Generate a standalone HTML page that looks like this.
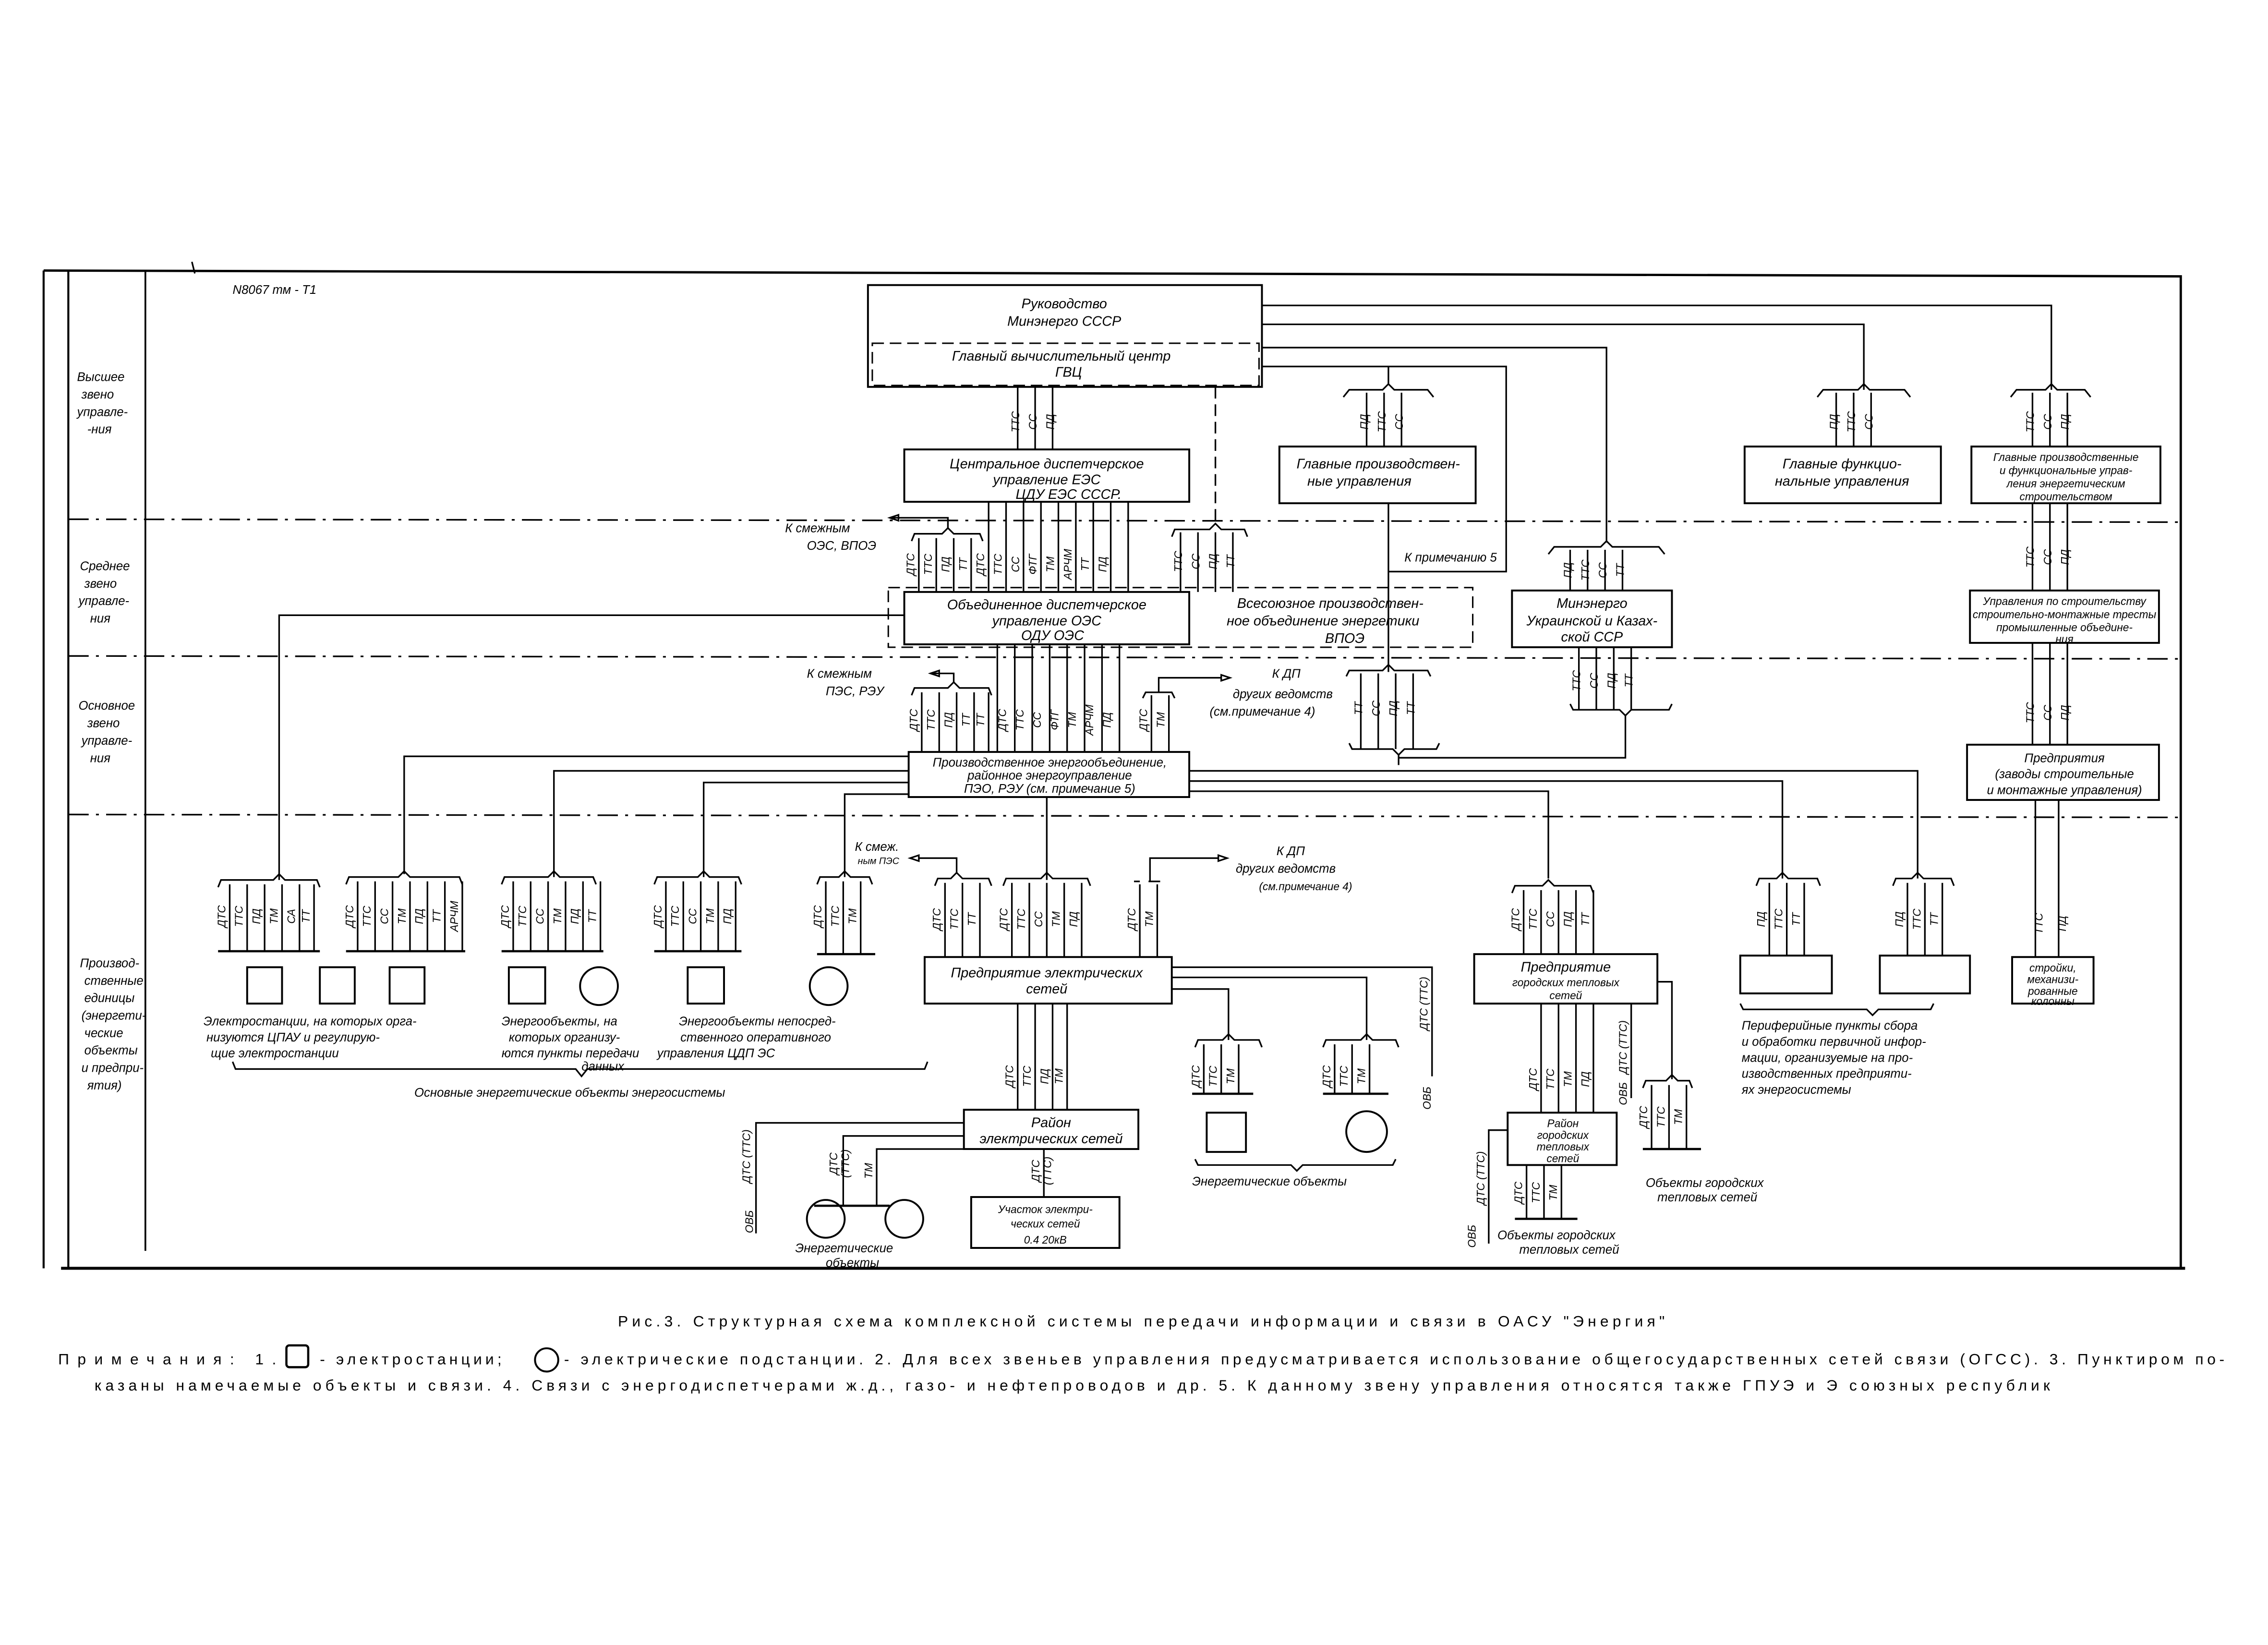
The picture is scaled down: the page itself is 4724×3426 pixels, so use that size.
<!DOCTYPE html>
<html><head><meta charset="utf-8"><style>
html,body{margin:0;padding:0;background:#fff}
svg{display:block}
text{font-family:"Liberation Sans","DejaVu Sans",sans-serif;font-style:italic;fill:#000}
.t{font-size:9.5px}
.s{font-size:7.5px}
.r{font-size:7.5px;text-anchor:middle}
.c{text-anchor:middle}
.n{font-size:10.5px;font-style:normal}
line,path,rect,circle{stroke:#000;fill:none}
</style></head><body>
<svg width="4724" height="3426" viewBox="0 0 1560 1131" preserveAspectRatio="none" xmlns="http://www.w3.org/2000/svg">
<g stroke-width="1.1">
<path d="M30 186 L1500 190 L1500 872" stroke-width="1.6"/>
<line x1="42" y1="872" x2="1503" y2="872" stroke-width="2"/>
<line x1="30" y1="186" x2="30" y2="872" stroke-width="1.4"/>
<line x1="47" y1="186" x2="47" y2="872" stroke-width="1.4"/>
<line x1="100" y1="186" x2="100" y2="860" stroke-width="1.2"/>
<line x1="132" y1="180" x2="134" y2="188"/>
<g stroke-dasharray="14 5 2 5">
<line x1="47" y1="357" x2="1500" y2="359"/>
<line x1="47" y1="451" x2="1500" y2="453"/>
<line x1="47" y1="560" x2="1500" y2="562"/>
</g>
</g>
<text class="s" x="160" y="202" style="font-size:8.5px">N8067 тм - T1</text>
<g class="s" style="font-size:8.5px">
<text x="53" y="262">Высшее</text><text x="56" y="274">звено</text><text x="53" y="286">управле-</text><text x="60" y="298">-ния</text>
<text x="55" y="392">Среднее</text><text x="58" y="404">звено</text><text x="54" y="416">управле-</text><text x="62" y="428">ния</text>
<text x="54" y="488">Основное</text><text x="60" y="500">звено</text><text x="56" y="512">управле-</text><text x="62" y="524">ния</text>
<text x="55" y="665">Производ-</text><text x="58" y="677">ственные</text><text x="58" y="689">единицы</text><text x="56" y="701">(энергети-</text><text x="58" y="713">ческие</text><text x="58" y="725">объекты</text><text x="56" y="737">и предпри-</text><text x="60" y="749">ятия)</text>
</g>

<g stroke-width="1.3">
<rect x="597" y="196" width="271" height="70"/>
<rect x="600" y="236" width="266" height="29" stroke-dasharray="8 4" stroke-width="1"/>
<rect x="622" y="309" width="196" height="36"/>
<rect x="880" y="307" width="135" height="39"/>
<rect x="1200" y="307" width="135" height="39"/>
<rect x="1356" y="307" width="130" height="39"/>
<rect x="611" y="404" width="402" height="41" stroke-dasharray="8 4" stroke-width="1"/>
<rect x="622" y="407" width="196" height="36"/>
<rect x="1040" y="406" width="110" height="39"/>
<rect x="1355" y="406" width="130" height="36"/>
<rect x="625" y="517" width="193" height="31"/>
<rect x="1353" y="512" width="132" height="38"/>
<rect x="636" y="658" width="170" height="32"/>
<rect x="1014" y="656" width="126" height="34"/>
<rect x="1197" y="657" width="63" height="26"/>
<rect x="1293" y="657" width="62" height="26"/>
<rect x="1384" y="658" width="56" height="32"/>
<rect x="663" y="763" width="120" height="27"/>
<rect x="1037" y="765" width="75" height="36"/>
<rect x="668" y="823" width="102" height="35"/>
<rect x="170" y="665" width="24" height="25"/><rect x="220" y="665" width="24" height="25"/><rect x="268" y="665" width="24" height="25"/>
<rect x="350" y="665" width="25" height="25"/><circle cx="412" cy="678" r="13"/>
<rect x="473" y="665" width="25" height="25"/><circle cx="570" cy="678" r="13"/>
<rect x="830" y="765" width="27" height="27"/><circle cx="940" cy="778" r="14"/>
<circle cx="568" cy="838" r="13"/><circle cx="622" cy="838" r="13"/>
</g>

<g class="t">
<text class="c" x="732" y="212">Руководство</text>
<text class="c" x="732" y="224">Минэнерго СССР</text>
<text class="c" x="730" y="248">Главный вычислительный центр</text>
<text class="c" x="735" y="259">ГВЦ</text>
<text class="c" x="720" y="322">Центральное диспетчерское</text>
<text class="c" x="720" y="333">управление ЕЭС</text>
<text class="c" x="735" y="343">ЦДУ ЕЭС СССР.</text>
<text class="c" x="948" y="322">Главные производствен-</text>
<text class="c" x="935" y="334">ные управления</text>
<text class="c" x="1267" y="322">Главные функцио-</text>
<text class="c" x="1267" y="334">нальные управления</text>
<text class="c s" x="1421" y="317">Главные производственные</text>
<text class="c s" x="1421" y="326">и функциональные управ-</text>
<text class="c s" x="1421" y="335">ления энергетическим</text>
<text class="c s" x="1421" y="344">строительством</text>
<text class="c" x="720" y="419">Объединенное диспетчерское</text>
<text class="c" x="720" y="430">управление ОЭС</text>
<text class="c" x="724" y="440">ОДУ ОЭС</text>
<text class="c" x="915" y="418">Всесоюзное производствен-</text>
<text class="c" x="910" y="430">ное объединение энергетики</text>
<text class="c" x="925" y="442">ВПОЭ</text>
<text class="c" x="1095" y="418">Минэнерго</text>
<text class="c" x="1095" y="430">Украинской и Казах-</text>
<text class="c" x="1095" y="441">ской ССР</text>
<text class="c s" x="1420" y="416">Управления по строительству</text>
<text class="c s" x="1420" y="425">строительно-монтажные тресты</text>
<text class="c s" x="1420" y="434">промышленные объедине-</text>
<text class="c s" x="1420" y="442">ния</text>
<text class="c s" x="722" y="527" style="font-size:8.5px">Производственное энергообъединение,</text>
<text class="c s" x="722" y="536" style="font-size:8.5px">районное энергоуправление</text>
<text class="c s" x="722" y="545" style="font-size:8.5px">ПЭО, РЭУ (см. примечание 5)</text>
<text class="c s" x="1420" y="524" style="font-size:8.5px">Предприятия</text>
<text class="c s" x="1420" y="535" style="font-size:8.5px">(заводы строительные</text>
<text class="c s" x="1420" y="546" style="font-size:8.5px">и монтажные управления)</text>
<text class="c" x="720" y="672">Предприятие электрических</text>
<text class="c" x="720" y="683">сетей</text>
<text class="c" x="1077" y="668">Предприятие</text>
<text class="c s" x="1077" y="678">городских тепловых</text>
<text class="c s" x="1077" y="687">сетей</text>
<text class="c s" x="1412" y="668">стройки,</text><text class="c s" x="1412" y="676">механизи-</text><text class="c s" x="1412" y="684">рованные</text><text class="c s" x="1412" y="691">колонны</text>
<text class="c" x="723" y="775">Район</text>
<text class="c" x="723" y="786">электрических сетей</text>
<text class="c s" x="1075" y="775">Район</text><text class="c s" x="1075" y="783">городских</text><text class="c s" x="1075" y="791">тепловых</text><text class="c s" x="1075" y="799">сетей</text>
<text class="c s" x="719" y="834">Участок электри-</text><text class="c s" x="719" y="844">ческих сетей</text><text class="c s" x="719" y="855">0.4 20кВ</text>
</g>

<g stroke-width="1.1">
<line x1="700" y1="266" x2="700" y2="309"/><line x1="712" y1="266" x2="712" y2="309"/><line x1="724" y1="266" x2="724" y2="309"/>
<path d="M868 210 H1411 V268"/><path d="M868 223 H1282 V268"/><path d="M868 239 H1105 V373"/>
<path d="M868 252 H1036 V393 H955"/>
<line x1="955" y1="346" x2="955" y2="462"/>
<line x1="836" y1="266" x2="836" y2="362" stroke-dasharray="8 4"/>
<path d="M924 273 L928 268 H951 L955 264 L959 268 H982 L986 273"/>
<line x1="940" y1="270" x2="940" y2="307"/><line x1="952" y1="270" x2="952" y2="307"/><line x1="964" y1="270" x2="964" y2="307"/>
<path d="M955 252 V264"/>
<path d="M1250 273 L1254 268 H1278 L1282 264 L1286 268 H1310 L1314 273"/>
<line x1="1263" y1="270" x2="1263" y2="307"/><line x1="1275" y1="270" x2="1275" y2="307"/><line x1="1287" y1="270" x2="1287" y2="307"/>
<path d="M1383 273 L1387 268 H1407 L1411 264 L1415 268 H1434 L1438 273"/>
<line x1="1398" y1="270" x2="1398" y2="307"/><line x1="1410" y1="270" x2="1410" y2="307"/><line x1="1422" y1="270" x2="1422" y2="307"/>
<line x1="1398" y1="346" x2="1398" y2="406"/><line x1="1410" y1="346" x2="1410" y2="406"/><line x1="1422" y1="346" x2="1422" y2="406"/>
<line x1="1398" y1="442" x2="1398" y2="512"/><line x1="1410" y1="442" x2="1410" y2="512"/><line x1="1422" y1="442" x2="1422" y2="512"/>
<line x1="1400" y1="550" x2="1400" y2="658"/><line x1="1416" y1="550" x2="1416" y2="658"/>
<path d="M1065 381 L1069 376 H1101 L1105 372 L1109 376 H1141 L1145 381"/>
<line x1="1080" y1="378" x2="1080" y2="406"/><line x1="1092" y1="378" x2="1092" y2="406"/><line x1="1104" y1="378" x2="1104" y2="406"/><line x1="1116" y1="378" x2="1116" y2="406"/>
<line x1="1086" y1="445" x2="1086" y2="488"/><line x1="1098" y1="445" x2="1098" y2="488"/><line x1="1110" y1="445" x2="1110" y2="488"/><line x1="1122" y1="445" x2="1122" y2="488"/>
<path d="M1080 484 L1082 488 H1114 L1118 492 L1122 488 H1148 L1150 484"/>
<path d="M1118 492 V521 H962"/>
<path d="M806 369 L808 364 H832 L836 360 L840 364 H856 L858 369"/>
<line x1="812" y1="366" x2="812" y2="407"/><line x1="824" y1="366" x2="824" y2="407"/><line x1="836" y1="366" x2="836" y2="407"/><line x1="848" y1="366" x2="848" y2="407"/>
<path d="M926 465 L928 461 H951 L955 457 L959 461 H982 L984 465"/>
<line x1="936" y1="463" x2="936" y2="515"/><line x1="948" y1="463" x2="948" y2="515"/><line x1="960" y1="463" x2="960" y2="515"/><line x1="972" y1="463" x2="972" y2="515"/>
<path d="M928 511 L930 515 H958 L962 519 L966 515 H988 L990 511"/>
<path d="M962 519 V526"/>
<path d="M627 372 L629 367 H648 L652 363 L656 367 H674 L676 372"/>
<path d="M652 363 V356 H612"/><path d="M612 356 l6 -2 v4 z" fill="#000"/>
<line x1="632" y1="370" x2="632" y2="407"/><line x1="644" y1="370" x2="644" y2="407"/><line x1="656" y1="370" x2="656" y2="407"/><line x1="668" y1="370" x2="668" y2="407"/>
<line x1="680" y1="345" x2="680" y2="407"/><line x1="692" y1="345" x2="692" y2="407"/><line x1="704" y1="345" x2="704" y2="407"/><line x1="716" y1="345" x2="716" y2="407"/><line x1="728" y1="345" x2="728" y2="407"/><line x1="740" y1="345" x2="740" y2="407"/><line x1="752" y1="345" x2="752" y2="407"/><line x1="764" y1="345" x2="764" y2="407"/><line x1="776" y1="345" x2="776" y2="407"/>
<path d="M627 478 L629 473 H652 L656 469 L660 473 H680 L682 478"/>
<path d="M656 469 V463 H640"/><path d="M640 463 l6 -2 v4 z" fill="#000"/>
<line x1="634" y1="476" x2="634" y2="517"/><line x1="646" y1="476" x2="646" y2="517"/><line x1="658" y1="476" x2="658" y2="517"/><line x1="670" y1="476" x2="670" y2="517"/><line x1="680" y1="476" x2="680" y2="517"/>
<line x1="686" y1="443" x2="686" y2="517"/><line x1="698" y1="443" x2="698" y2="517"/><line x1="710" y1="443" x2="710" y2="517"/><line x1="722" y1="443" x2="722" y2="517"/><line x1="734" y1="443" x2="734" y2="517"/><line x1="746" y1="443" x2="746" y2="517"/><line x1="758" y1="443" x2="758" y2="517"/><line x1="770" y1="443" x2="770" y2="517"/>
<path d="M786 480 L788 476 H806 L808 480"/><path d="M797 476 V466 H840"/><path d="M846 466 l-6 -2 v4 z" fill="#000"/>
<line x1="792" y1="478" x2="792" y2="517"/><line x1="804" y1="478" x2="804" y2="517"/>
<path d="M622 423 H192 V605"/>
<path d="M625 520 H278 V601"/>
<path d="M625 530 H381 V603"/>
<path d="M625 538 H484 V603"/>
<path d="M625 546 H581 V603"/>
<path d="M818 530 H1319 V604"/>
<path d="M818 537 H1226 V604"/>
<path d="M818 544 H1065 V604"/>
<line x1="720" y1="548" x2="720" y2="605"/>
<path d="M150 610 L152 605 H188 L192 601 L196 605 H218 L220 610"/>
<path d="M238 608 L240 603 H274 L278 599 L282 603 H316 L318 608"/>
<path d="M345 608 L347 603 H377 L381 599 L385 603 H408 L410 608"/>
<path d="M450 608 L452 603 H480 L484 599 L488 603 H508 L510 608"/>
<path d="M562 608 L564 603 H577 L581 599 L585 603 H598 L600 608"/>
<g>
<line x1="158" y1="608" x2="158" y2="654"/><line x1="170" y1="608" x2="170" y2="654"/><line x1="182" y1="608" x2="182" y2="654"/><line x1="194" y1="608" x2="194" y2="654"/><line x1="206" y1="608" x2="206" y2="654"/><line x1="216" y1="608" x2="216" y2="654"/>
<line x1="150" y1="654" x2="220" y2="654" stroke-width="1.5"/>
<line x1="246" y1="606" x2="246" y2="654"/><line x1="258" y1="606" x2="258" y2="654"/><line x1="270" y1="606" x2="270" y2="654"/><line x1="282" y1="606" x2="282" y2="654"/><line x1="294" y1="606" x2="294" y2="654"/><line x1="306" y1="606" x2="306" y2="654"/><line x1="318" y1="606" x2="318" y2="654"/>
<line x1="238" y1="654" x2="320" y2="654" stroke-width="1.5"/>
<line x1="353" y1="606" x2="353" y2="654"/><line x1="365" y1="606" x2="365" y2="654"/><line x1="377" y1="606" x2="377" y2="654"/><line x1="389" y1="606" x2="389" y2="654"/><line x1="401" y1="606" x2="401" y2="654"/><line x1="413" y1="606" x2="413" y2="654"/>
<line x1="345" y1="654" x2="415" y2="654" stroke-width="1.5"/>
<line x1="458" y1="606" x2="458" y2="654"/><line x1="470" y1="606" x2="470" y2="654"/><line x1="482" y1="606" x2="482" y2="654"/><line x1="494" y1="606" x2="494" y2="654"/><line x1="506" y1="606" x2="506" y2="654"/>
<line x1="450" y1="654" x2="510" y2="654" stroke-width="1.5"/>
<line x1="568" y1="606" x2="568" y2="656"/><line x1="580" y1="606" x2="580" y2="656"/><line x1="592" y1="606" x2="592" y2="656"/>
<line x1="562" y1="656" x2="602" y2="656" stroke-width="1.5"/>
</g>
<path d="M643 609 L645 604 H654 L658 600 L662 604 H680 L682 609"/>
<path d="M658 600 V590 H632"/><path d="M626 590 l6 -2 v4 z" fill="#000"/>
<line x1="650" y1="607" x2="650" y2="658"/><line x1="662" y1="607" x2="662" y2="658"/><line x1="674" y1="607" x2="674" y2="658"/>
<path d="M690 609 L692 604 H716 L720 600 L724 604 H748 L750 609"/>
<line x1="696" y1="607" x2="696" y2="658"/><line x1="708" y1="607" x2="708" y2="658"/><line x1="720" y1="607" x2="720" y2="658"/><line x1="732" y1="607" x2="732" y2="658"/><line x1="744" y1="607" x2="744" y2="658"/>
<path d="M780 606 H784 M790 606 H798"/><path d="M791 606 V590 H838"/><path d="M844 590 l-6 -2 v4 z" fill="#000"/>
<line x1="784" y1="608" x2="784" y2="658"/><line x1="796" y1="608" x2="796" y2="658"/>
<line x1="700" y1="690" x2="700" y2="763"/><line x1="712" y1="690" x2="712" y2="763"/><line x1="724" y1="690" x2="724" y2="763"/><line x1="734" y1="690" x2="734" y2="763"/>
<path d="M806 672 H940 V715"/><path d="M806 680 H845 V715"/>
<path d="M822 720 L824 715 H841 L845 711 L849 715 H866 L868 720"/>
<path d="M910 720 L912 715 H936 L940 711 L944 715 H960 L962 720"/>
<line x1="828" y1="718" x2="828" y2="752"/><line x1="840" y1="718" x2="840" y2="752"/><line x1="852" y1="718" x2="852" y2="752"/>
<line x1="820" y1="752" x2="862" y2="752" stroke-width="1.5"/>
<line x1="918" y1="718" x2="918" y2="752"/><line x1="930" y1="718" x2="930" y2="752"/><line x1="942" y1="718" x2="942" y2="752"/>
<line x1="910" y1="752" x2="955" y2="752" stroke-width="1.5"/>
<path d="M806 665 H985 V740"/>
<path d="M663 772 H520 V848"/>
<path d="M663 781 H580 V829"/>
<path d="M663 790 H603 V829"/>
<line x1="560" y1="829" x2="612" y2="829" stroke-width="1.5"/>
<line x1="718" y1="790" x2="718" y2="823"/>
<path d="M822 797 L824 801 H888 L892 805 L896 801 H958 L960 797"/>
<path d="M1040 614 L1042 609 H1061 L1065 605 L1069 609 H1094 L1096 614"/>
<line x1="1048" y1="612" x2="1048" y2="656"/><line x1="1060" y1="612" x2="1060" y2="656"/><line x1="1072" y1="612" x2="1072" y2="656"/><line x1="1084" y1="612" x2="1084" y2="656"/><line x1="1096" y1="612" x2="1096" y2="656"/>
<line x1="1060" y1="690" x2="1060" y2="765"/><line x1="1072" y1="690" x2="1072" y2="765"/><line x1="1084" y1="690" x2="1084" y2="765"/><line x1="1096" y1="690" x2="1096" y2="765"/>
<line x1="1122" y1="690" x2="1122" y2="755"/>
<path d="M1140 675 H1150 V742"/>
<path d="M1130 748 L1132 743 H1146 L1150 739 L1154 743 H1162 L1164 748"/>
<line x1="1136" y1="746" x2="1136" y2="790"/><line x1="1148" y1="746" x2="1148" y2="790"/><line x1="1160" y1="746" x2="1160" y2="790"/>
<line x1="1130" y1="790" x2="1170" y2="790" stroke-width="1.5"/>
<path d="M1037 777 H1024 V855"/>
<line x1="1050" y1="801" x2="1050" y2="838"/><line x1="1062" y1="801" x2="1062" y2="838"/><line x1="1074" y1="801" x2="1074" y2="838"/>
<line x1="1042" y1="838" x2="1085" y2="838" stroke-width="1.5"/>
<path d="M1208 609 L1210 604 H1222 L1226 600 L1230 604 H1250 L1252 609"/>
<line x1="1217" y1="607" x2="1217" y2="657"/><line x1="1229" y1="607" x2="1229" y2="657"/><line x1="1241" y1="607" x2="1241" y2="657"/>
<path d="M1302 609 L1304 604 H1315 L1319 600 L1323 604 H1342 L1344 609"/>
<line x1="1312" y1="607" x2="1312" y2="657"/><line x1="1324" y1="607" x2="1324" y2="657"/><line x1="1336" y1="607" x2="1336" y2="657"/>
<path d="M1197 690 L1199 694 H1284 L1288 698 L1292 694 H1328 L1330 690"/>
<path d="M160 730 L162 735 H396 L400 740 L404 735 H636 L638 730"/>
</g>

<g class="r">
<text transform="translate(701,290) rotate(-90)">ТТС</text><text transform="translate(713,290) rotate(-90)">СС</text><text transform="translate(725,290) rotate(-90)">ПД</text>
<text transform="translate(941,290) rotate(-90)">ПД</text><text transform="translate(953,290) rotate(-90)">ТТС</text><text transform="translate(965,290) rotate(-90)">СС</text>
<text transform="translate(1264,290) rotate(-90)">ПД</text><text transform="translate(1276,290) rotate(-90)">ТТС</text><text transform="translate(1288,290) rotate(-90)">СС</text>
<text transform="translate(1399,290) rotate(-90)">ТТС</text><text transform="translate(1411,290) rotate(-90)">СС</text><text transform="translate(1423,290) rotate(-90)">ПД</text>
<text transform="translate(1399,383) rotate(-90)">ТТС</text><text transform="translate(1411,383) rotate(-90)">СС</text><text transform="translate(1423,383) rotate(-90)">ПД</text>
<text transform="translate(1399,490) rotate(-90)">ТТС</text><text transform="translate(1411,490) rotate(-90)">СС</text><text transform="translate(1423,490) rotate(-90)">ПД</text>
<text transform="translate(1405,635) rotate(-90)">ТТС</text><text transform="translate(1421,635) rotate(-90)">ПД</text>
<text transform="translate(1081,392) rotate(-90)">ПД</text><text transform="translate(1093,392) rotate(-90)">ТТС</text><text transform="translate(1105,392) rotate(-90)">СС</text><text transform="translate(1117,392) rotate(-90)">ТТ</text>
<text transform="translate(1087,468) rotate(-90)">ТТС</text><text transform="translate(1099,468) rotate(-90)">СС</text><text transform="translate(1111,468) rotate(-90)">ПД</text><text transform="translate(1123,468) rotate(-90)">ТТ</text>
<text transform="translate(813,386) rotate(-90)">ТТС</text><text transform="translate(825,386) rotate(-90)">СС</text><text transform="translate(837,386) rotate(-90)">ПД</text><text transform="translate(849,386) rotate(-90)">ТТ</text>
<text transform="translate(937,487) rotate(-90)">ТТ</text><text transform="translate(949,487) rotate(-90)">СС</text><text transform="translate(961,487) rotate(-90)">ПД</text><text transform="translate(973,487) rotate(-90)">ТТ</text>
<text transform="translate(629,388) rotate(-90)">ДТС</text><text transform="translate(641,388) rotate(-90)">ТТС</text><text transform="translate(653,388) rotate(-90)">ПД</text><text transform="translate(665,388) rotate(-90)">ТТ</text>
<text transform="translate(677,388) rotate(-90)">ДТС</text><text transform="translate(689,388) rotate(-90)">ТТС</text><text transform="translate(701,388) rotate(-90)">СС</text><text transform="translate(713,388) rotate(-90)">ФТГ</text><text transform="translate(725,388) rotate(-90)">ТМ</text><text transform="translate(737,388) rotate(-90)">АРЧМ</text><text transform="translate(749,388) rotate(-90)">ТТ</text><text transform="translate(761,388) rotate(-90)">ПД</text>
<text transform="translate(631,495) rotate(-90)">ДТС</text><text transform="translate(643,495) rotate(-90)">ТТС</text><text transform="translate(655,495) rotate(-90)">ПД</text><text transform="translate(667,495) rotate(-90)">ТТ</text><text transform="translate(677,495) rotate(-90)">ТТ</text>
<text transform="translate(692,495) rotate(-90)">ДТС</text><text transform="translate(704,495) rotate(-90)">ТТС</text><text transform="translate(716,495) rotate(-90)">СС</text><text transform="translate(728,495) rotate(-90)">ФТГ</text><text transform="translate(740,495) rotate(-90)">ТМ</text><text transform="translate(752,495) rotate(-90)">АРЧМ</text><text transform="translate(764,495) rotate(-90)">ПД</text>
<text transform="translate(789,495) rotate(-90)">ДТС</text><text transform="translate(801,495) rotate(-90)">ТМ</text>
<text transform="translate(155,630) rotate(-90)">ДТС</text><text transform="translate(167,630) rotate(-90)">ТТС</text><text transform="translate(179,630) rotate(-90)">ПД</text><text transform="translate(191,630) rotate(-90)">ТМ</text><text transform="translate(203,630) rotate(-90)">СА</text><text transform="translate(213,630) rotate(-90)">ТТ</text>
<text transform="translate(243,630) rotate(-90)">ДТС</text><text transform="translate(255,630) rotate(-90)">ТТС</text><text transform="translate(267,630) rotate(-90)">СС</text><text transform="translate(279,630) rotate(-90)">ТМ</text><text transform="translate(291,630) rotate(-90)">ПД</text><text transform="translate(303,630) rotate(-90)">ТТ</text><text transform="translate(315,630) rotate(-90)">АРЧМ</text>
<text transform="translate(350,630) rotate(-90)">ДТС</text><text transform="translate(362,630) rotate(-90)">ТТС</text><text transform="translate(374,630) rotate(-90)">СС</text><text transform="translate(386,630) rotate(-90)">ТМ</text><text transform="translate(398,630) rotate(-90)">ПД</text><text transform="translate(410,630) rotate(-90)">ТТ</text>
<text transform="translate(455,630) rotate(-90)">ДТС</text><text transform="translate(467,630) rotate(-90)">ТТС</text><text transform="translate(479,630) rotate(-90)">СС</text><text transform="translate(491,630) rotate(-90)">ТМ</text><text transform="translate(503,630) rotate(-90)">ПД</text>
<text transform="translate(565,630) rotate(-90)">ДТС</text><text transform="translate(577,630) rotate(-90)">ТТС</text><text transform="translate(589,630) rotate(-90)">ТМ</text>
<text transform="translate(647,632) rotate(-90)">ДТС</text><text transform="translate(659,632) rotate(-90)">ТТС</text><text transform="translate(671,632) rotate(-90)">ТТ</text>
<text transform="translate(693,632) rotate(-90)">ДТС</text><text transform="translate(705,632) rotate(-90)">ТТС</text><text transform="translate(717,632) rotate(-90)">СС</text><text transform="translate(729,632) rotate(-90)">ТМ</text><text transform="translate(741,632) rotate(-90)">ПД</text>
<text transform="translate(781,632) rotate(-90)">ДТС</text><text transform="translate(793,632) rotate(-90)">ТМ</text>
<text transform="translate(697,740) rotate(-90)">ДТС</text><text transform="translate(709,740) rotate(-90)">ТТС</text><text transform="translate(721,740) rotate(-90)">ПД</text><text transform="translate(731,740) rotate(-90)">ТМ</text>
<text transform="translate(825,740) rotate(-90)">ДТС</text><text transform="translate(837,740) rotate(-90)">ТТС</text><text transform="translate(849,740) rotate(-90)">ТМ</text>
<text transform="translate(915,740) rotate(-90)">ДТС</text><text transform="translate(927,740) rotate(-90)">ТТС</text><text transform="translate(939,740) rotate(-90)">ТМ</text>
<text transform="translate(982,690) rotate(-90)">ДТС (ТТС)</text><text transform="translate(984,755) rotate(-90)">ОВБ</text>
<text transform="translate(516,795) rotate(-90)">ДТС (ТТС)</text><text transform="translate(518,840) rotate(-90)">ОВБ</text>
<text transform="translate(576,800) rotate(-90)">ДТС</text><text transform="translate(584,800) rotate(-90)">(ТТС)</text><text transform="translate(600,805) rotate(-90)">ТМ</text>
<text transform="translate(715,805) rotate(-90)">ДТС</text><text transform="translate(723,805) rotate(-90)">(ТТС)</text>
<text transform="translate(1045,632) rotate(-90)">ДТС</text><text transform="translate(1057,632) rotate(-90)">ТТС</text><text transform="translate(1069,632) rotate(-90)">СС</text><text transform="translate(1081,632) rotate(-90)">ПД</text><text transform="translate(1093,632) rotate(-90)">ТТ</text>
<text transform="translate(1057,742) rotate(-90)">ДТС</text><text transform="translate(1069,742) rotate(-90)">ТТС</text><text transform="translate(1081,742) rotate(-90)">ТМ</text><text transform="translate(1093,742) rotate(-90)">ПД</text>
<text transform="translate(1119,720) rotate(-90)">ДТС (ТТС)</text><text transform="translate(1119,752) rotate(-90)">ОВБ</text>
<text transform="translate(1133,768) rotate(-90)">ДТС</text><text transform="translate(1145,768) rotate(-90)">ТТС</text><text transform="translate(1157,768) rotate(-90)">ТМ</text>
<text transform="translate(1047,820) rotate(-90)">ДТС</text><text transform="translate(1059,820) rotate(-90)">ТТС</text><text transform="translate(1071,820) rotate(-90)">ТМ</text>
<text transform="translate(1021,810) rotate(-90)">ДТС (ТТС)</text><text transform="translate(1015,850) rotate(-90)">ОВБ</text>
<text transform="translate(1214,632) rotate(-90)">ПД</text><text transform="translate(1226,632) rotate(-90)">ТТС</text><text transform="translate(1238,632) rotate(-90)">ТТ</text>
<text transform="translate(1309,632) rotate(-90)">ПД</text><text transform="translate(1321,632) rotate(-90)">ТТС</text><text transform="translate(1333,632) rotate(-90)">ТТ</text>
</g>

<g class="s" style="font-size:8.5px">
<text x="540" y="366">К смежным</text><text x="555" y="378">ОЭС, ВПОЭ</text>
<text x="966" y="386">К примечанию 5</text>
<text x="555" y="466">К смежным</text><text x="568" y="478">ПЭС, РЭУ</text>
<text x="875" y="466">К ДП</text><text x="848" y="480">других ведомств</text><text x="832" y="492">(см.примечание 4)</text>
<text x="588" y="585">К смеж.</text><text x="590" y="594" style="font-size:6.5px">ным ПЭС</text>
<text x="878" y="588">К ДП</text><text x="850" y="600">других ведомств</text><text x="866" y="612" style="font-size:7.5px">(см.примечание 4)</text>
<text x="140" y="705">Электростанции, на которых орга-</text><text x="142" y="716">низуются ЦПАУ и регулирую-</text><text x="145" y="727">щие электростанции</text>
<text x="345" y="705">Энергообъекты, на</text><text x="350" y="716">которых организу-</text><text x="345" y="727">ются пункты передачи</text><text x="400" y="736">данных</text>
<text x="467" y="705">Энергообъекты непосред-</text><text x="468" y="716">ственного оперативного</text><text x="452" y="727">управления ЦДП ЭС</text>
<text x="285" y="754">Основные энергетические объекты энергосистемы</text>
<text x="820" y="815">Энергетические объекты</text>
<text x="547" y="861">Энергетические</text><text x="568" y="871">объекты</text>
<text x="1132" y="816">Объекты городских</text><text x="1140" y="826">тепловых сетей</text>
<text x="1030" y="852">Объекты городских</text><text x="1045" y="862">тепловых сетей</text>
<text x="1198" y="708">Периферийные пункты сбора</text><text x="1198" y="719">и обработки первичной инфор-</text><text x="1198" y="730">мации, организуемые на про-</text><text x="1198" y="741">изводственных предприяти-</text><text x="1198" y="752">ях энергосистемы</text>
</g>

<text class="n" x="425" y="912" textLength="720" lengthAdjust="spacing">Рис.3. Структурная схема комплексной системы передачи информации и связи в ОАСУ "Энергия"</text>
<text class="n" x="40" y="938" textLength="150" lengthAdjust="spacing">Примечания: 1.</text>
<text class="n" x="220" y="938" textLength="125" lengthAdjust="spacing">- электростанции;</text>
<text class="n" x="388" y="938" textLength="1142" lengthAdjust="spacing">- электрические подстанции. 2. Для всех звеньев управления предусматривается использование общегосударственных сетей связи (ОГСС). 3. Пунктиром по-</text>
<text class="n" x="65" y="956" textLength="1345" lengthAdjust="spacing">казаны намечаемые объекты и связи. 4. Связи с энергодиспетчерами ж.д., газо- и нефтепроводов и др. 5. К данному звену управления относятся также ГПУЭ и Э союзных республик</text>
<rect x="197" y="925" width="15" height="15" stroke-width="1.5" rx="2"/>
<circle cx="376" cy="935" r="8" stroke-width="1.3"/>
</svg>
</body></html>
